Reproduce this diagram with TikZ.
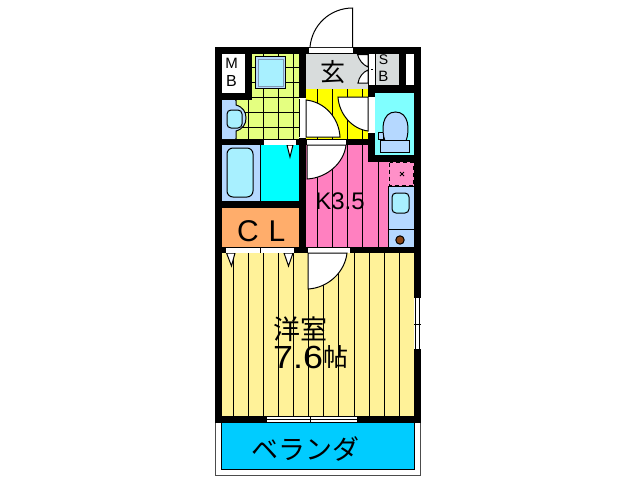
\documentclass[tikz,border=0pt]{standalone}
\usepackage{fontspec}
\setmainfont{Liberation Sans}
\newfontfamily\jpfont{Noto Sans CJK JP}
\definecolor{cWash}{HTML}{E4FF80}
\definecolor{cYel}{HTML}{FFFF00}
\definecolor{cGray}{HTML}{D8DCDC}
\definecolor{cPink}{HTML}{FF80C0}
\definecolor{cCyan}{HTML}{00FFFF}
\definecolor{cVer}{HTML}{00CCFF}
\definecolor{cOra}{HTML}{FFAD6B}
\definecolor{cRoom}{HTML}{FFF299}
\definecolor{cBlue}{HTML}{B5D8FF}
\definecolor{cToi}{HTML}{80FFFF}
\definecolor{cTub}{HTML}{A8F0FF}
\definecolor{cDot}{HTML}{FF90C8}
\definecolor{cBurn}{HTML}{8B4513}
\tikzset{
 thin line/.style={line width=1pt,black},
 fixture/.style={draw=black,line width=1pt},
 slot/.style={fill=white,draw=none},
 doorleaf/.style={fill=white,draw=black,line width=1pt},
 lab/.style={inner sep=0pt,black},
}
\begin{document}
\begin{tikzpicture}[x=1pt,y=-1pt]
\useasboundingbox (0,0) rectangle (638,480);
\fill[white] (0,0) rectangle (638,480);
% veranda
\draw[line width=1pt,black!70,fill=white] (215.5,420) rectangle (420.5,475.5);
\draw[line width=1pt,fill=cVer] (221.5,422) rectangle (414.5,469.5);
% walls
\fill[black] (215,47) rectangle (421,423);
% MB and small closet
\fill[white] (222,54) rectangle (245,93);
\fill[white] (406,54) rectangle (414,86);
% wash room
\fill[cWash] (252,54) rectangle (299,100);
\fill[cWash] (222,100) rectangle (299,139);
\foreach \x in {263.7,278.7,293.7} \draw[thin line] (\x,54) -- (\x,139);
\draw[thin line] (248.7,100) -- (248.7,139);
\foreach \y in {67.7,82.7} \draw[thin line] (252,\y) -- (299,\y);
\foreach \y in {97.7,112.7,127.7} \draw[thin line] (236,\y) -- (299,\y);
\draw[line width=1.4pt,draw=black,fill=cBlue] (255.7,56.7) rectangle (285.7,88.3);
\draw[line width=1pt,draw=cBlue!70!black,fill=cTub] (258,59) rectangle (283.5,86);
% wash basin
\fill[cBlue] (222,100) rectangle (236,139);
\draw[fixture,fill=cBlue] (236,100) -- (236,105) .. controls (243,107) and (246,112) .. (246,118) .. controls (246,124) and (243,129) .. (236,131) -- (236,139) -- (222,139) -- (222,100) -- cycle;
\draw[draw=none,fill=cWash] (236.5,100) rectangle (239,104);
\fill[cBlue] (222,100) rectangle (235,139);
\draw[fixture,fill=cBlue] (237,100) -- (237,100);
\draw[fixture,fill=cTub,rounded corners=4pt] (227,110) rectangle (242,128);
% entry
\fill[cGray] (306,54) rectangle (368,89);
\fill[cGray] (375,54) rectangle (399,89);
% hall
\fill[cYel] (306,89) rectangle (368,139);
\foreach \x in {317.3,332.7,347.7,362.7} \draw[thin line] (\x,89) -- (\x,139);
% toilet
\fill[black] (368,85) rectangle (421,162);
\fill[cToi] (375,93) rectangle (414,155);
\draw[fixture,fill=cBlue] (378,132) rectangle (383.5,139);
\draw[fixture,fill=cBlue] (395.5,112) .. controls (382,112) and (381,130) .. (385,141) -- (406,141) .. controls (410,130) and (409,112) .. (395.5,112) -- cycle;
\draw[fixture,fill=cBlue] (380,140) rectangle (409,152);
% bath
\fill[cBlue] (222,145) rectangle (260,201);
\draw[fixture,fill=cTub,rounded corners=6pt] (227,148) rectangle (253,197);
\fill[cCyan] (261,145) rectangle (299,201);
% CL
\fill[cOra] (222,208) rectangle (299,247);
% kitchen
\fill[cPink] (306,145) rectangle (368,247);
\fill[cPink] (368,162) rectangle (388,247);
\foreach \x in {317.3,332.7,347.7,362.7} \draw[thin line] (\x,145) -- (\x,247);
\draw[thin line] (378.3,162) -- (378.3,247);
\fill[cDot] (388,162) rectangle (414,186);
\draw[line width=1pt,dash pattern=on 4pt off 3pt] (389.5,162.5) rectangle (413.5,185.5);
\draw[line width=.8pt] (400,172) -- (404,176) (404,172) -- (400,176);
\draw[fixture,fill=cBlue] (388,186.5) rectangle (414.5,247);
\draw[thin line] (388,229) -- (414,229);
\draw[fixture,fill=cTub,rounded corners=4pt] (392,193) rectangle (409,213);
\draw[line width=1pt,fill=cBurn] (400,240) circle (4.2);
% western room
\fill[cRoom] (222,253) rectangle (414,416);
\foreach \x in {233.3,248.3,263.3,278.3,293.3,308.3,323.3,338.3,354.3,369.3,384.3,399.3} \draw[thin line] (\x,253) -- (\x,416);
% triangles
\draw[doorleaf] (287,145) -- (293,145) -- (290,157) -- cycle;
\draw[doorleaf] (226.5,253) -- (235,253) -- (231.5,266) -- cycle;
\draw[doorleaf] (284,253) -- (293,253) -- (288.5,266) -- cycle;
% slots
\fill[slot] (309,47.7) rectangle (353,52.7);
\fill[slot] (368,54) rectangle (375,85);
\draw[thin line] (368.5,54) -- (368.5,85) (375,54) -- (375,85);
\draw[thin line] (371,69) -- (373,69);
\fill[slot] (299,98) rectangle (306,138);
\draw[thin line] (299.5,99) -- (299.5,137);
\fill[slot] (368,97) rectangle (375,133);
\fill[slot] (264,139.5) rectangle (296,145);
\fill[slot] (307,139.5) rectangle (346,145);
\fill[slot] (226,247.5) rectangle (294,253);
\draw[thin line] (260.5,247.5) -- (260.5,253);
\fill[slot] (308,247.5) rectangle (350,253);
\fill[slot] (267,416.5) rectangle (357,422);
\draw[thin line] (267,419) -- (357,419);
\draw[thin line] (310,416.5) -- (310,422);
\fill[slot] (414,298) rectangle (421,349);
\draw[thin line] (415,298) -- (415,349) (419.7,298) -- (419.7,349);
\draw[thin line] (414,324) -- (421,324);
% door leaves
\draw[thin line,fill=white] (310,47) .. controls (312,25) and (330,8) .. (352.7,8) -- (352.7,47);
\draw[doorleaf] (306,100) .. controls (325,102) and (339,118) .. (340,137) -- (306,137) -- cycle;
\draw[doorleaf] (338,97) .. controls (339,114) and (352,129) .. (368,131) -- (368,97) -- cycle;
\draw[doorleaf] (346,145) .. controls (344,163) and (327,178) .. (307,179) -- (307,145) -- cycle;
\draw[doorleaf] (347,253) .. controls (345,272) and (328,288) .. (308,289) -- (308,253) -- cycle;
\draw[doorleaf] (357.5,54.5) .. controls (359,60) and (363,65) .. (368,67) -- (368,54.5) -- cycle;
\draw[doorleaf] (358,83) .. controls (359,77) and (363,72) .. (368,70) -- (368,83) -- cycle;
% labels
\node[lab,font=\fontsize{15}{15}\selectfont] (mbm) at (231.5,63.5) {M};
\node[lab,font=\fontsize{16}{16}\selectfont] (mbb) at (231.5,81) {B};
\node[lab,font=\fontsize{14}{14}\selectfont] (sbs) at (383.5,60) {S};
\node[lab,font=\fontsize{15}{15}\selectfont] (sbb) at (383.5,76) {B};
\node[lab,font=\fontsize{25}{25}\selectfont\jpfont] (gen) at (333,72) {玄};
\node[lab,font=\fontsize{24}{24}\selectfont,anchor=center] (kit) at (340,201.5) {K3.5};
\node[lab,font=\fontsize{30}{30}\selectfont] (cc) at (248,231) {C};
\node[lab,font=\fontsize{30}{30}\selectfont] (cl) at (277,231) {L};
\node[lab,font=\fontsize{27}{27}\selectfont\jpfont] (yo) at (300,329) {洋室};
\node[lab,font=\fontsize{32}{32}\selectfont,anchor=west,xscale=1.12] (num) at (273,357) {7.6};
\node[lab,font=\fontsize{25}{25}\selectfont\jpfont,anchor=west] (jo) at (323,357) {帖};
\node[lab,font=\fontsize{27}{27}\selectfont\jpfont] (ver) at (305,449) {ベランダ};
\end{tikzpicture}
\end{document}
